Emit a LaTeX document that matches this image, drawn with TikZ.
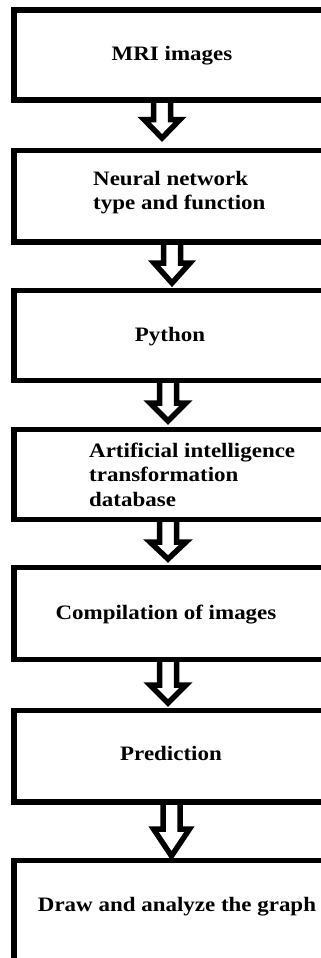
\documentclass[tikz,border=0pt]{standalone}
\usepackage{fontspec}
\setmainfont{Liberation Serif}[FakeStretch=1.12]
\usetikzlibrary{calc}
\tikzset{
  box/.style={draw, line width=5.5pt, rectangle, outer sep=0pt, inner sep=0pt, anchor=north west, minimum width=330pt},
  lbl/.style={font=\bfseries\fontsize{20.5}{24.5}\selectfont, inner sep=0pt, align=left},
  hollowarrow/.style={draw, line width=5.5pt, line join=miter}
}
% #1 start, #2 end, #3 shoulder distance above end, #4 tip gap above end
\newcommand{\blockarrow}[4]{%
  \draw[hollowarrow] let \p1=(#1), \p2=(#2) in
    (\x1-8.5pt,\y1) -- (\x1-8.5pt,\y2+#3pt) -- (\x1-18pt,\y2+#3pt) -- (\x1,\y2+#4pt)
    -- (\x1+18pt,\y2+#3pt) -- (\x1+8.5pt,\y2+#3pt) -- (\x1+8.5pt,\y1);}
\begin{document}
\begin{tikzpicture}[x=1pt,y=-1pt]
\useasboundingbox (0,0) rectangle (321,958);
\clip (0,0) rectangle (321,958);
\node[box, minimum height=90pt]   (b1) at (14,10) {};
\node[box, minimum height=91.5pt] (b2) at (14,150.5) {};
\node[box, minimum height=90pt]   (b3) at (14,290.5) {};
\node[box, minimum height=90pt]   (b4) at (14,429.5) {};
\node[box, minimum height=92pt]   (b5) at (14,567.5) {};
\node[box, minimum height=91.5pt] (b6) at (14,710.5) {};
\node[box, minimum height=130pt]  (b7) at (14,860.5) {};

\node[lbl, anchor=base] (t1) at (172,60) {MRI images};
\node[lbl, anchor=base west] (t2) at (93,209.5) {Neural network\\type and function};
\node[lbl, anchor=base] (t3) at (170,341.5) {Python};
\node[lbl, anchor=base west] (t4) at (89,506) {Artificial intelligence\\transformation\\database};
\node[lbl, anchor=base] (t5) at (166,619) {Compilation of images};
\node[lbl, anchor=base] (t6) at (171,760) {Prediction};
\node[lbl, anchor=base] (t7) at (177,911) {Draw and analyze the graph};

\coordinate (x1) at (162,0);
\coordinate (x2) at (172,0);
\coordinate (x3) at (168,0);
\coordinate (x4) at (168,0);
\coordinate (x5) at (168,0);
\coordinate (x6) at (171.5,0);

\blockarrow{b1.south -| x1}{b2.north -| x1}{31}{12.5}
\blockarrow{b2.south -| x2}{b3.north -| x2}{27.5}{7.5}
\blockarrow{b3.south -| x3}{b4.north -| x3}{26.5}{8.5}
\blockarrow{b4.south -| x4}{b5.north -| x4}{25.5}{8.5}
\blockarrow{b5.south -| x5}{b6.north -| x5}{25.5}{7.5}
\blockarrow{b6.south -| x6}{b7.north -| x6}{31.5}{4.5}
\end{tikzpicture}
\end{document}
